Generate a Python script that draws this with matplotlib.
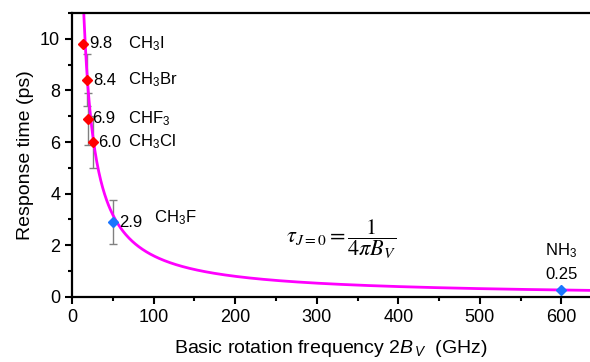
import numpy as np
import matplotlib
matplotlib.use("Agg")
import matplotlib.pyplot as plt
from matplotlib.ticker import MultipleLocator

plt.rcParams['font.family'] = ['Liberation Sans', 'DejaVu Sans']
plt.rcParams['mathtext.fontset'] = 'custom'
plt.rcParams['mathtext.rm'] = 'Liberation Sans'
plt.rcParams['mathtext.it'] = 'Liberation Sans:italic'

# molecules: 2B (GHz), response time (ps), error
names = ['CH$_3$I', 'CH$_3$Br', 'CHF$_3$', 'CH$_3$Cl', 'CH$_3$F', 'NH$_3$']
freq = [13.5, 18.5, 20.0, 26.0, 50.5, 600.0]
resp = [9.8, 8.4, 6.9, 6.0, 2.9, 0.25]
err = [0.0, 1.0, 1.0, 1.0, 0.87, 0.0]
labels = ['9.8', '8.4', '6.9', '6.0', '2.9', '0.25']
colors = ['red', 'red', 'red', 'red', '#1a75ff', '#1a75ff']

# theoretical curve tau = 1/(4 pi B), 2B in GHz -> ps
xc = np.linspace(10, 640, 800)
yc = 1000.0 / (2 * np.pi * xc)

fig = plt.figure(figsize=(5.9, 3.62), dpi=100)
ax = fig.add_axes([0.122, 0.18, 0.878, 0.784])

ax.plot(xc, yc, color='#ff00ff', lw=2, zorder=2)
for x, y, e, c in zip(freq, resp, err, colors):
    if e > 0:
        ax.errorbar(x, y, yerr=e, fmt='none', ecolor='#808080', elinewidth=1,
                    capsize=3, zorder=1)
    ax.plot(x, y, marker='D', ms=5, color=c, ls='none', zorder=3)

# text labels
fs = 12
ax.text(freq[0] + 8, resp[0], labels[0], fontsize=fs, va='center')
ax.text(freq[1] + 7, resp[1], labels[1], fontsize=fs, va='center')
ax.text(freq[2] + 5, resp[2], labels[2], fontsize=fs, va='center')
ax.text(freq[3] + 6, resp[3], labels[3], fontsize=fs, va='center')
for i in range(4):
    ax.text(69, resp[i], names[i], fontsize=fs, va='center')
ax.text(freq[4] + 7, resp[4], labels[4], fontsize=fs, va='center')
ax.text(101, resp[4] + 0.15, names[4], fontsize=fs, va='center')
ax.text(freq[5], 0.85, labels[5], fontsize=fs, ha='center', va='center')
ax.text(freq[5], 1.8, names[5], fontsize=fs, ha='center', va='center')

ax.text(262, 2.25, r'$\tau_{J=0}=\dfrac{1}{4\pi B_V}$', fontsize=16,
        va='center', math_fontfamily='stix')

ax.set_xlim(0, 635)
ax.set_ylim(0, 11)
ax.xaxis.set_major_locator(MultipleLocator(100))
ax.xaxis.set_minor_locator(MultipleLocator(50))
ax.yaxis.set_major_locator(MultipleLocator(2))
ax.yaxis.set_minor_locator(MultipleLocator(1))
ax.tick_params(which='both', direction='out', labelsize=13, width=1.5)
ax.tick_params(which='major', length=5)
ax.tick_params(which='minor', length=3)
ax.spines['right'].set_visible(False)
for s in ['left', 'bottom', 'top']:
    ax.spines[s].set_linewidth(1.6)

ax.set_xlabel('Basic rotation frequency 2$\\it{B}_{\\,V}$  (GHz)', fontsize=14, labelpad=9)
ax.set_ylabel('Response time (ps)', fontsize=14)

fig.savefig('out.png', dpi=100)
